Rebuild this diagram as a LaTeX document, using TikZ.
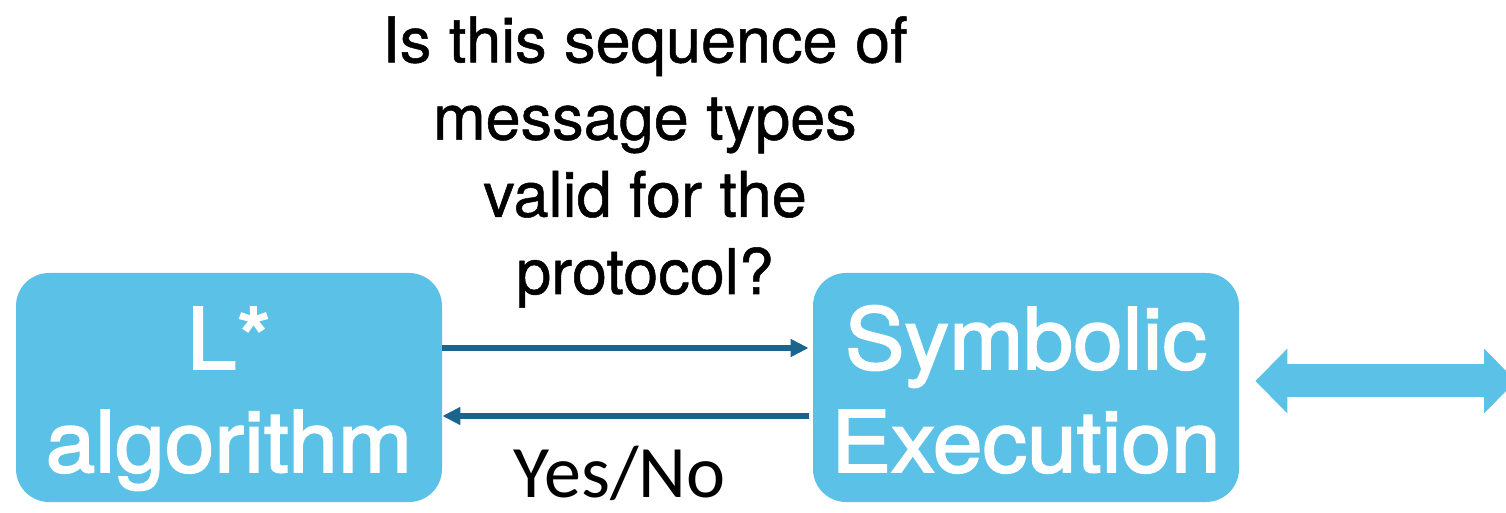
\documentclass[tikz,border=0pt]{standalone}
\usepackage{fontspec}
\setmainfont{TeX Gyre Heros}
\newfontfamily\blockfont{TeX Gyre Heros}[FakeBold=2.2,FakeStretch=1.05]
\newfontfamily\questionfont{TeX Gyre Heros}[FakeBold=0.8]
\newfontfamily\yesnofont{Carlito}
\usetikzlibrary{arrows.meta,calc}
\definecolor{boxblue}{RGB}{92,193,230}
\definecolor{linkblue}{RGB}{26,100,142}
% two centred lines with fixed room above and below
\newcommand{\twolines}[2]{\rule{0pt}{43pt}#1\\#2\rule[-10pt]{0pt}{10pt}}

\begin{document}
\begin{tikzpicture}[x=0.5pt,y=-0.5pt,
  block/.style={fill=boxblue, rounded corners=16.5pt, minimum width=213pt,
    minimum height=114.5pt, inner sep=0pt, text=white, align=center,
    font=\blockfont\fontsize{42.5}{51.5}\selectfont},
  query/.style={draw=linkblue, line width=3pt,
    -{Triangle[length=9pt,width=8.5pt]}},
  outlink/.style={draw=boxblue, line width=16.5pt,
    {Triangle[length=16pt,width=31.5pt]}-{Triangle[length=16pt,width=31.5pt]}},
  question/.style={align=center, inner sep=0pt,
    font=\questionfont\fontsize{31.5}{38.6}\selectfont},
  answer/.style={inner sep=0pt, font=\yesnofont\fontsize{37}{44}\selectfont}
]
\useasboundingbox (0,0) rectangle (1506,513);

% the two components
\node[block] (L) at (229,387.5) {\twolines{L*}{algorithm}};
\node[block] (S) at (1026,387.5) {\twolines{Symbolic}{Execution}};

% membership query and its answer
\draw[query] ($(L.east)+(0,-39.5)$) -- ($(S.west)+(-4,-39.5)$);
\draw[query] ($(S.west)+(-4,28.5)$) -- ($(L.east)+(0,28.5)$);

\node[question, anchor=base] (Q) at (645,294)
  {Is this sequence of\\message types\\valid for the\\protocol?};
\node[answer, anchor=base] (A) at (619.5,497) {Yes/No};

% exchange with the environment on the right
\coordinate (ext) at (1516,381);
\draw[outlink] ($(S.east)+(16,-6.5)$) -- (ext);
\end{tikzpicture}
\end{document}
